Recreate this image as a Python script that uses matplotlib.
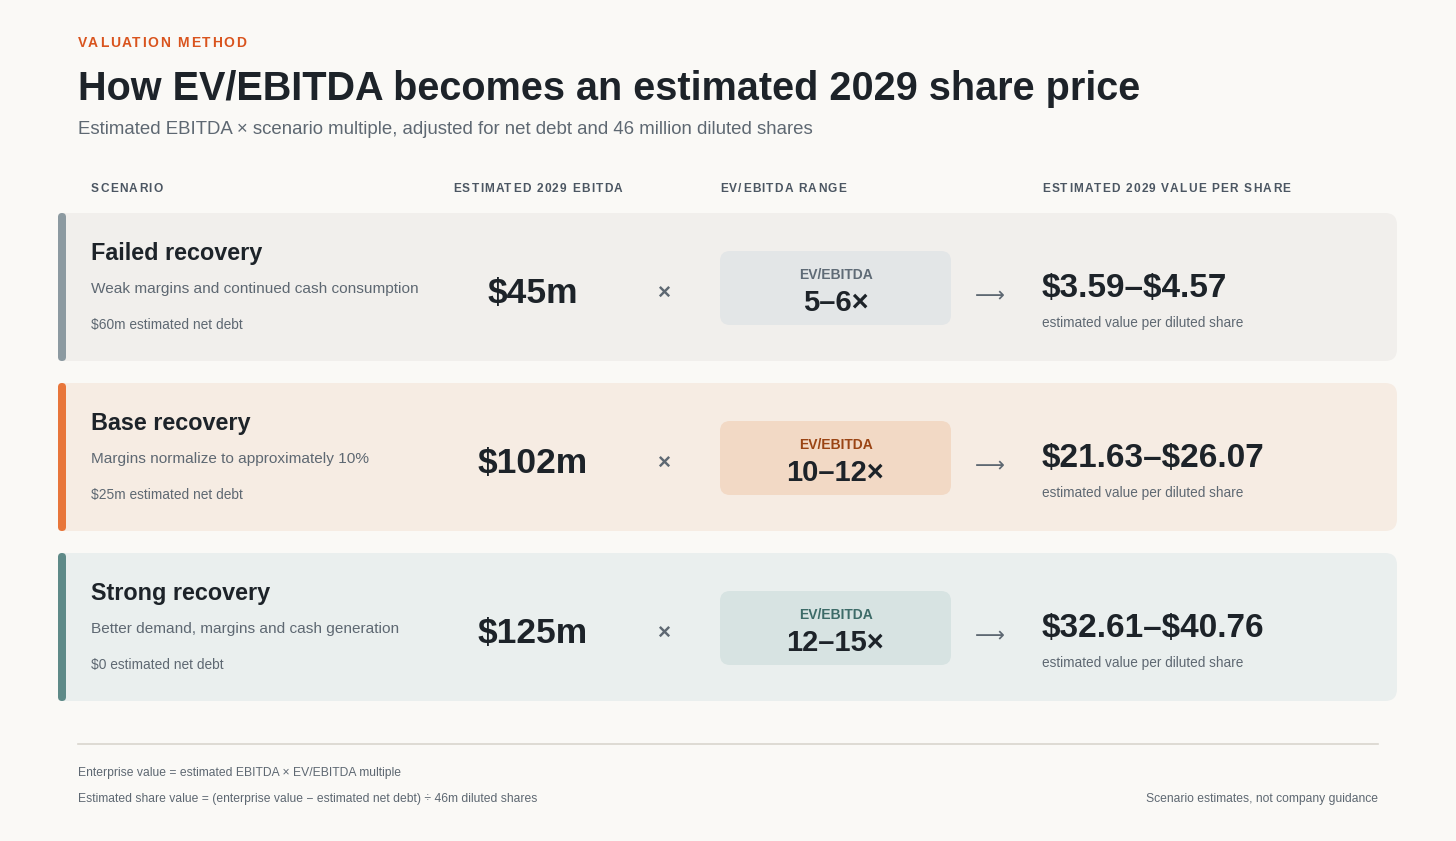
import matplotlib
matplotlib.use("Agg")
import matplotlib.pyplot as plt
from matplotlib.patches import FancyBboxPatch, Rectangle

plt.rcParams['font.family'] = ['Liberation Sans', 'DejaVu Sans']

# data
scenarios = ["Failed recovery", "Base recovery", "Strong recovery"]
descriptions = ["Weak margins and continued cash consumption",
                "Margins normalize to approximately 10%",
                "Better demand, margins and cash generation"]
net_debt_m = [60, 25, 0]
ebitda_m = [45, 102, 125]
mult_lo = [5, 10, 12]
mult_hi = [6, 12, 15]
value_lo = [3.59, 21.63, 32.61]
value_hi = [4.57, 26.07, 40.76]
headers = ["SCENARIO", "ESTIMATED 2029 EBITDA", "EV/EBITDA RANGE",
           "ESTIMATED 2029 VALUE PER SHARE"]

# styling per row
card_bg = ["#F1EFEC", "#F6ECE3", "#EAEFEE"]
accent = ["#8C9AA1", "#E8763A", "#5E8A88"]
box_bg = ["#E3E6E7", "#F2D9C5", "#D7E3E2"]
box_label = ["#5F6B76", "#9A4414", "#3D6B68"]

BG = "#FAF9F6"
DARK = "#1D2329"
GRAY = "#5E6872"
HEAD = "#4B5662"

W, H = 1456, 841
fig = plt.figure(figsize=(W / 100, H / 100), dpi=100, facecolor=BG)
ax = fig.add_axes([0, 0, 1, 1])
ax.set_xlim(0, W)
ax.set_ylim(H, 0)
ax.axis('off')
renderer = fig.canvas.get_renderer()


def tracked(x, y, s, spacing, **kw):
    # letter-spaced text: each glyph right-aligned at the end of its prefix
    for i, ch in enumerate(s):
        if ch == " ":
            continue
        probe = ax.text(0, 0, s[:i + 1], **kw)
        w = probe.get_window_extent(renderer).width
        probe.remove()
        ax.text(x + w + i * spacing, y, ch, ha='right', **kw)


tracked(78, 47, "VALUATION METHOD", 1.7, fontsize=10, fontweight='bold',
        color="#D9541E", va='baseline')
ax.text(78, 100, "How EV/EBITDA becomes an estimated 2029 share price",
        fontsize=28.5, fontweight='bold', color=DARK, va='baseline')
ax.text(78, 134, "Estimated EBITDA × scenario multiple, adjusted for net debt "
        "and 46 million diluted shares", fontsize=13.4, color=GRAY,
        va='baseline')

header_x = [91, 453, 720, 1042]
for hx, h in zip(header_x, headers):
    tracked(hx, 192, h, 1.25, fontsize=8.6, fontweight='bold', color=HEAD,
            va='baseline')

row_top = [213, 383, 553]
row_h = 148
for i, T in enumerate(row_top):
    card = FancyBboxPatch((58, T), 1339, row_h,
                          boxstyle="round,pad=0,rounding_size=12",
                          fc=card_bg[i], ec='none')
    ax.add_patch(card)
    ax.add_patch(Rectangle((60, T), 20, row_h, fc=card_bg[i], ec='none'))
    ax.add_patch(FancyBboxPatch((58, T), 8, row_h,
                                boxstyle="round,pad=0,rounding_size=4",
                                fc=accent[i], ec='none'))

    ax.text(91, T + 47, scenarios[i], fontsize=16.8, fontweight='bold',
            color=DARK, va='baseline')
    ax.text(91, T + 80, descriptions[i], fontsize=11.05, color=GRAY,
            va='baseline')
    ax.text(91, T + 116, f"\\${net_debt_m[i]}m estimated net debt"
            if net_debt_m[i] else "\\$0 estimated net debt",
            fontsize=9.9, color=GRAY, va='baseline')

    ax.text(533, T + 90, f"\\${ebitda_m[i]}m", fontsize=25.5,
            fontweight='bold', color=DARK, ha='center', va='baseline')
    ax.text(664, T + 80, "×", fontsize=16, fontweight='bold', color=GRAY,
            ha='center', va='center')

    ax.add_patch(FancyBboxPatch((720, T + 38), 231, 74,
                                boxstyle="round,pad=0,rounding_size=10",
                                fc=box_bg[i], ec='none'))
    ax.text(835.5, T + 66, "EV/EBITDA", fontsize=10, fontweight='bold',
            color=box_label[i], ha='center', va='baseline')
    ax.text(835.5, T + 98, f"{mult_lo[i]}–{mult_hi[i]}×", fontsize=21,
            fontweight='bold', color=DARK, ha='center', va='baseline')

    ax.text(990, T + 83, "⟶", fontsize=15, color=GRAY, ha='center',
            va='center', family='DejaVu Sans')

    ax.text(1042, T + 84, f"\\${value_lo[i]:.2f}–\\${value_hi[i]:.2f}",
            fontsize=24, fontweight='bold', color=DARK, va='baseline')
    ax.text(1042, T + 114, "estimated value per diluted share",
            fontsize=9.85, color=GRAY, va='baseline')

ax.plot([78, 1378], [744, 744], color="#D9D6CE", lw=1.2)
ax.text(78, 776, "Enterprise value = estimated EBITDA × EV/EBITDA multiple",
        fontsize=8.7, color=GRAY, va='baseline')
ax.text(78, 802, "Estimated share value = (enterprise value − estimated net "
        "debt) ÷ 46m diluted shares", fontsize=8.7, color=GRAY,
        va='baseline')
ax.text(1378, 802, "Scenario estimates, not company guidance", fontsize=8.75,
        color=GRAY, ha='right', va='baseline')

fig.savefig("out.png", dpi=100, facecolor=BG)
